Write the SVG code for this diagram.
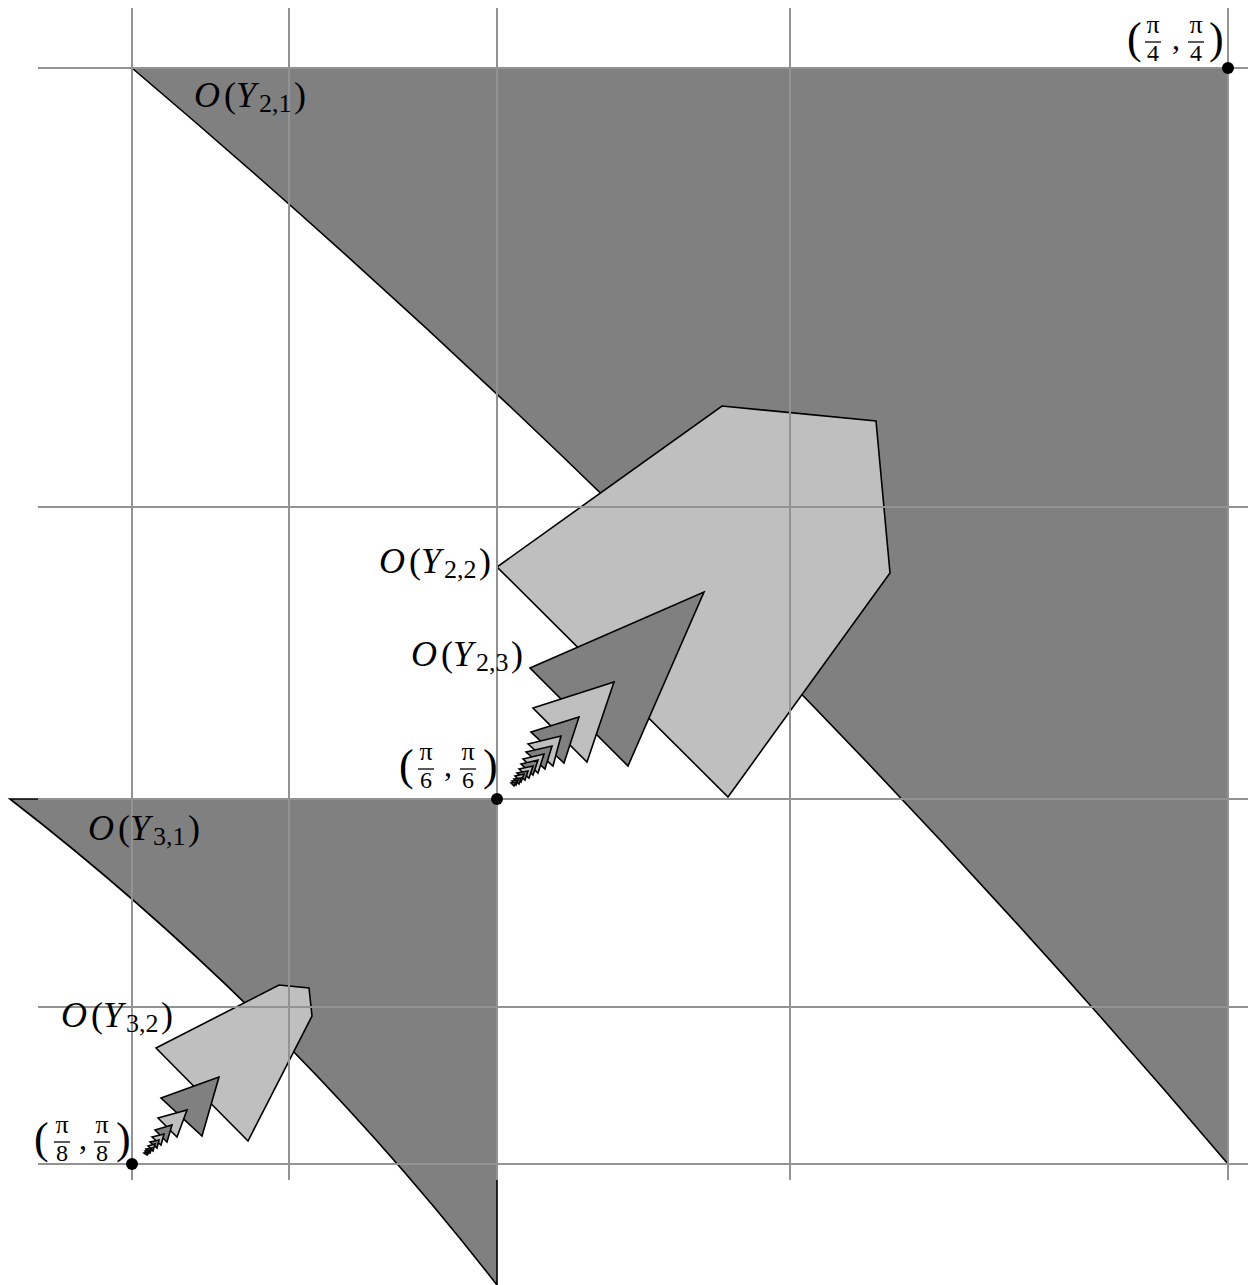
<svg xmlns="http://www.w3.org/2000/svg" width="1248" height="1285" viewBox="0 0 1248 1285">
<style>
.dk{fill:#808080;stroke:#000;stroke-width:1.6;stroke-linejoin:miter}
.lt{fill:#bfbfbf;stroke:#000;stroke-width:1.6;stroke-linejoin:miter}
.grid line{stroke:#939393;stroke-width:2}
.m{font-family:"Liberation Serif",serif;fill:#000}
.it{font-style:italic}
.bar{stroke:#000;stroke-width:1.3}
</style>
<rect width="1248" height="1285" fill="#fff"/>
<g id="Y21"><path class="dk" d="M132,68 L1228,68 L1228,1164 Q724,570 132,68 Z"/></g>
<g id="Y31"><path class="dk" d="M10,799 L497,799 L497,1285 Q284,1011 10,799 Z"/></g>
<g id="Y22"><polygon class="lt" points="497,567 722,406 876,421 890,573 728,797"/></g>
<g id="Y23"><polygon class="dk" points="530,668 704,592 628,766"/></g>
<g id="Y24"><polygon class="lt" points="533,708 614,682 587,762"/></g>
<g id="Y25"><polygon class="dk" points="531,732 579,717 564,763"/></g>
<g id="Y26"><polygon class="lt" points="528,744 561,736 553,766"/></g>
<g id="Y27"><polygon class="dk" points="526,752 552,746 545,769"/></g>
<g id="Y28"><polygon class="lt" points="523,759 544,754 538,773"/></g>
<g id="Y29"><polygon class="dk" points="521,764 538,760 533,775"/></g>
<g id="Y210"><polygon class="lt" points="519,769 533,766 529,778"/></g>
<g id="Y211"><polygon class="dk" points="517,773 528,771 525,780"/></g>
<g id="Y212"><polygon class="lt" points="515,776 524,774 521,782"/></g>
<g id="Y213"><polygon class="dk" points="514,779 521,778 519,784"/></g>
<g id="Y214"><polygon class="lt" points="512,781 518,780 516,785"/></g>
<g id="Y215"><polygon class="dk" points="511,783 516,782 514,786"/></g>
<g id="Y32"><polygon class="lt" points="156,1048 279,985 309,988 312,1016 248,1141"/></g>
<g id="Y33"><polygon class="dk" points="161,1098 219,1077 202,1136"/></g>
<g id="Y34"><polygon class="lt" points="158,1118 187,1110 177,1137"/></g>
<g id="Y35"><polygon class="dk" points="155,1130 172,1125 167,1142"/></g>
<g id="Y36"><polygon class="lt" points="152,1137 164,1134 161,1145"/></g>
<g id="Y37"><polygon class="dk" points="150,1142 159,1140 157,1148"/></g>
<g id="Y38"><polygon class="lt" points="148,1146 155,1144 153,1151"/></g>
<g id="Y39"><polygon class="dk" points="146,1149 152,1148 150,1153"/></g>
<g id="Y310"><polygon class="lt" points="145,1151 150,1150 148,1154"/></g>
<g id="Y311"><polygon class="dk" points="144,1153 148,1152 147,1155"/></g>
<g class="grid" id="grid">
<line x1="132" y1="8" x2="132" y2="1180"/>
<line x1="289" y1="8" x2="289" y2="1180"/>
<line x1="497" y1="8" x2="497" y2="1180"/>
<line x1="790" y1="8" x2="790" y2="1180"/>
<line x1="1228" y1="8" x2="1228" y2="1180"/>
<line x1="38" y1="68" x2="1248" y2="68"/>
<line x1="38" y1="507" x2="1248" y2="507"/>
<line x1="38" y1="799" x2="1248" y2="799"/>
<line x1="38" y1="1007" x2="1248" y2="1007"/>
<line x1="38" y1="1164" x2="1248" y2="1164"/>
</g>
<g id="connectors"></g>
<g id="points">
<circle cx="1228" cy="68" r="6"/>
<circle cx="497" cy="799" r="6"/>
<circle cx="132" cy="1164" r="6"/>
</g>
<g id="label-Y21" class="m" transform="translate(194,107)">
<text x="0" y="0" font-size="36" class="it">O</text><text x="30" y="0" font-size="36">(</text><text x="42" y="0" font-size="36" class="it">Y</text><text x="65" y="5" font-size="26">2,1</text><text x="100" y="0" font-size="36">)</text>
</g>
<g id="label-Y22" class="m" transform="translate(379,573)">
<text x="0" y="0" font-size="36" class="it">O</text><text x="30" y="0" font-size="36">(</text><text x="42" y="0" font-size="36" class="it">Y</text><text x="65" y="5" font-size="26">2,2</text><text x="100" y="0" font-size="36">)</text>
</g>
<g id="label-Y23" class="m" transform="translate(411,666)">
<text x="0" y="0" font-size="36" class="it">O</text><text x="30" y="0" font-size="36">(</text><text x="42" y="0" font-size="36" class="it">Y</text><text x="65" y="5" font-size="26">2,3</text><text x="100" y="0" font-size="36">)</text>
</g>
<g id="label-Y31" class="m" transform="translate(88,840)">
<text x="0" y="0" font-size="36" class="it">O</text><text x="30" y="0" font-size="36">(</text><text x="42" y="0" font-size="36" class="it">Y</text><text x="65" y="5" font-size="26">3,1</text><text x="100" y="0" font-size="36">)</text>
</g>
<g id="label-Y32" class="m" transform="translate(61,1027)">
<text x="0" y="0" font-size="36" class="it">O</text><text x="30" y="0" font-size="36">(</text><text x="42" y="0" font-size="36" class="it">Y</text><text x="65" y="5" font-size="26">3,2</text><text x="100" y="0" font-size="36">)</text>
</g>
<g id="label-pi4" class="m" transform="translate(1130,0)">
<text x="-3" y="53" font-size="44">(</text>
<text x="23" y="33" font-size="26" text-anchor="middle">π</text><line class="bar" x1="15" y1="42" x2="31" y2="42"/><text x="23" y="61" font-size="24" text-anchor="middle">4</text>
<text x="42" y="49" font-size="32">,</text>
<text x="66" y="33" font-size="26" text-anchor="middle">π</text><line class="bar" x1="58" y1="42" x2="74" y2="42"/><text x="66" y="61" font-size="24" text-anchor="middle">4</text>
<text x="79" y="53" font-size="44">)</text>
</g>
<g id="label-pi6" class="m" transform="translate(402,727)">
<text x="-3" y="53" font-size="44">(</text>
<text x="24" y="33" font-size="26" text-anchor="middle">π</text><line class="bar" x1="16" y1="42" x2="32" y2="42"/><text x="24" y="61" font-size="24" text-anchor="middle">6</text>
<text x="42" y="49" font-size="32">,</text>
<text x="66" y="33" font-size="26" text-anchor="middle">π</text><line class="bar" x1="58" y1="42" x2="74" y2="42"/><text x="66" y="61" font-size="24" text-anchor="middle">6</text>
<text x="81" y="53" font-size="44">)</text>
</g>
<g id="label-pi8" class="m" transform="translate(37,1100)">
<text x="-3" y="53" font-size="44">(</text>
<text x="25" y="33" font-size="26" text-anchor="middle">π</text><line class="bar" x1="17" y1="42" x2="33" y2="42"/><text x="25" y="61" font-size="24" text-anchor="middle">8</text>
<text x="42" y="49" font-size="32">,</text>
<text x="65" y="33" font-size="26" text-anchor="middle">π</text><line class="bar" x1="57" y1="42" x2="73" y2="42"/><text x="65" y="61" font-size="24" text-anchor="middle">8</text>
<text x="79" y="53" font-size="44">)</text>
</g>
</svg>
